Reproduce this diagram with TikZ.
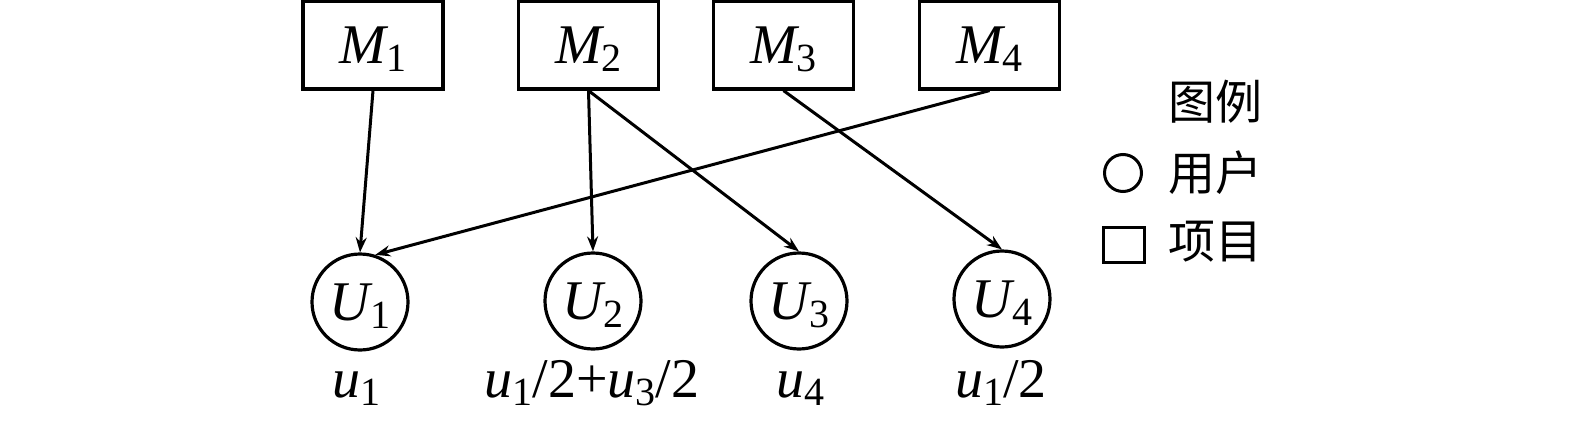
\documentclass[tikz,border=0pt]{standalone}
\usepackage{fontspec}
\setmainfont{Liberation Serif}
\newfontfamily\cjk{Noto Sans CJK SC}
\usetikzlibrary{arrows.meta}
\newcommand\sbs[1]{\raisebox{-4pt}{\fontsize{20}{20}\selectfont #1}}
\newcommand\vi[1]{{\itshape #1}}
\begin{document}
\begin{tikzpicture}[x=0.5pt,y=-0.5pt,
  every node/.style={font=\fontsize{28}{28}\selectfont},
  item/.style={draw,line width=1.6pt,minimum width=70pt,minimum height=44pt,inner sep=0pt,text height=18.5pt,text depth=0pt},
  user/.style={draw,circle,line width=1.6pt,minimum size=48pt,inner sep=0pt,text height=18.5pt,text depth=0pt},
  val/.style={anchor=base,inner sep=0pt},
  leg/.style={inner sep=0pt,font=\cjk\fontsize{23.5}{23.5}\selectfont},
  arr/.style={line width=1.5pt,-{Stealth[length=7.5pt,width=5.5pt]}}]
\useasboundingbox (0,0) rectangle (1575,423);
\node[item] (M1) at (373,45) {\vi{M}\sbs{1}};
\node[item] (M2) at (588.5,45) {\vi{M}\sbs{2}};
\node[item] (M3) at (783.5,45) {\vi{M}\sbs{3}};
\node[item] (M4) at (989.5,45) {\vi{M}\sbs{4}};
\node[user] (U1) at (360,302) {\vi{U}\sbs{1}};
\node[user] (U2) at (593,301) {\vi{U}\sbs{2}};
\node[user] (U3) at (799,301) {\vi{U}\sbs{3}};
\node[user] (U4) at (1002,299) {\vi{U}\sbs{4}};
\node[val] (v1) at (356,397) {\vi{u}\sbs{1}};
\node[val] (v2) at (592,397) {\vi{u}\sbs{1}/2+\vi{u}\sbs{3}/2};
\node[val] (v3) at (800,397) {\vi{u}\sbs{4}};
\node[val] (v4) at (1001,397) {\vi{u}\sbs{1}/2};
\draw[arr] (M1.south) -- (U1.north);
\draw[arr] (M2.south) -- (U2.north);
\draw[arr] (M2.south) -- (U3.north);
\draw[arr] (M3.south) -- (U4.north);
\draw[arr] (M4.south) -- (U1.72);
\node[leg] (lt) at (1215,102) {图例};
\node[draw,circle,line width=1.5pt,minimum size=18.5pt,inner sep=0pt] (lc) at (1123,173) {};
\node[leg] (lu) at (1215,173) {用户};
\node[draw,line width=1.5pt,minimum width=20.5pt,minimum height=17.5pt,inner sep=0pt] (ls) at (1123.5,244.5) {};
\node[leg] (li) at (1215,242) {项目};
\end{tikzpicture}
\end{document}
